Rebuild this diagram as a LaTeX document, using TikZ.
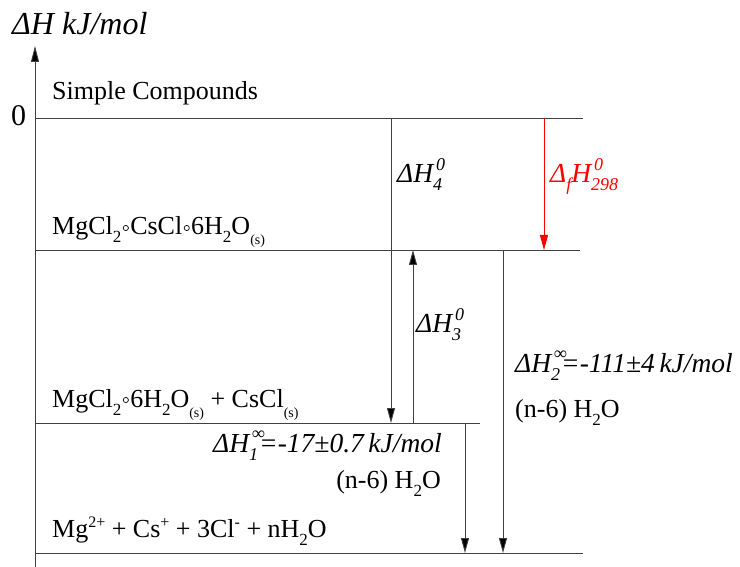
\documentclass[tikz,border=0pt]{standalone}
\usepackage{fontspec}
\setmainfont{Liberation Serif}
\usetikzlibrary{arrows.meta}
\newcommand{\dn}[1]{\raisebox{-8pt}{\fontsize{17}{17}\selectfont #1}}
\newcommand{\dns}[1]{\raisebox{-10pt}{\fontsize{14}{14}\selectfont #1}}
\newcommand{\up}[1]{\raisebox{10pt}{\fontsize{16}{16}\selectfont #1}}
\newcommand{\ssub}[2]{\rlap{\hspace{3pt}\raisebox{13pt}{\fontsize{18}{18}\selectfont #1}}\raisebox{-8pt}{\fontsize{18}{18}\selectfont #2}}
\newcommand{\cir}{\hspace{1.5pt}\raisebox{7pt}{\tikz[baseline]\draw[line width=0.7pt] (0,0) circle (2.6pt);}\hspace{1.5pt}}
\begin{document}
\begin{tikzpicture}[x=1pt,y=-1pt,
  lvl/.style={draw=black!75,line width=0.9pt},
  conn/.style={draw=black!75,line width=0.9pt},
  arr/.style={conn,-{Triangle[length=15pt,width=8pt,fill=black]}},
  txt/.style={inner sep=0pt,font=\fontsize{26}{30}\selectfont},
  lab/.style={inner sep=0pt,font=\fontsize{27.5}{30}\selectfont\itshape}]
\useasboundingbox (0,0) rectangle (740,567);
% axis
\coordinate (ax0) at (35,567);
\coordinate (ax1) at (35,46);
\draw[conn,-{Triangle[length=16pt,width=8pt,fill=black]}] (ax0) -- (ax1);
\node[inner sep=0pt,font=\fontsize{32}{36}\selectfont\itshape,anchor=base west] (axlab) at (12,35) {ΔH kJ/mol};
\node[inner sep=0pt,font=\fontsize{30}{34}\selectfont,anchor=base west] (zero) at (11,126) {0};
% levels
\coordinate (l1a) at (35,118); \coordinate (l1b) at (583,118);
\coordinate (l2a) at (35,250); \coordinate (l2b) at (580,250);
\coordinate (l3a) at (35,423); \coordinate (l3b) at (480,423);
\coordinate (l4a) at (35,553); \coordinate (l4b) at (583,553);
\draw[lvl] (l1a) -- (l1b);
\draw[lvl] (l2a) -- (l2b);
\draw[lvl] (l3a) -- (l3b);
\draw[lvl] (l4a) -- (l4b);
\node[txt,anchor=base west] (t1) at (52,100) {Simple Compounds};
\node[txt,anchor=base west] (t2) at (52,235) {MgCl\dn{2}\cir CsCl\cir 6H\dn{2}O\dns{(s)}};
\node[txt,anchor=base west] (t3) at (52,407) {MgCl\dn{2}\cir 6H\dn{2}O\dns{(s)} + CsCl\dns{(s)}};
\node[txt,anchor=base west] (t4) at (52,537) {Mg\up{2+} + Cs\up{+} + 3Cl\up{-} + nH\dn{2}O};
% arrows
\coordinate (h4a) at (391,118); \coordinate (h4b) at (391,423);
\draw[arr] (h4a) -- (h4b);
\node[lab,anchor=base west] (h4lab) at (397,183) {ΔH\ssub{0}{4}};
\coordinate (fa) at (544,118); \coordinate (fb) at (544,250);
\draw[conn,draw=red,-{Triangle[length=15pt,width=8pt,fill=red]}] (fa) -- (fb);
\node[lab,anchor=base west,text=red] (flab) at (550,183) {Δ\raisebox{-8pt}{\fontsize{18}{18}\selectfont f}H\ssub{0}{298}};
\coordinate (h3a) at (413,423); \coordinate (h3b) at (413,250);
\draw[arr] (h3a) -- (h3b);
\node[lab,anchor=base west] (h3lab) at (416,333) {ΔH\ssub{0}{3}};
\coordinate (h2a) at (503,250); \coordinate (h2b) at (503,553);
\draw[arr] (h2a) -- (h2b);
\node[lab,anchor=base west] (h2lab) at (515,372) {ΔH\ssub{∞}{2}\hspace{1pt}=-111±4\,kJ/mol};
\node[txt,anchor=base west] (h2w) at (515,417) {(n-6) H\dn{2}O};
\coordinate (h1a) at (465,423); \coordinate (h1b) at (465,553);
\draw[arr] (h1a) -- (h1b);
\node[lab,anchor=base east] (h1lab) at (442,452) {ΔH\ssub{∞}{1}\hspace{1pt}=-17±0.7\,kJ/mol};
\node[txt,anchor=base east] (h1w) at (441,488) {(n-6) H\dn{2}O};
\end{tikzpicture}
\end{document}
